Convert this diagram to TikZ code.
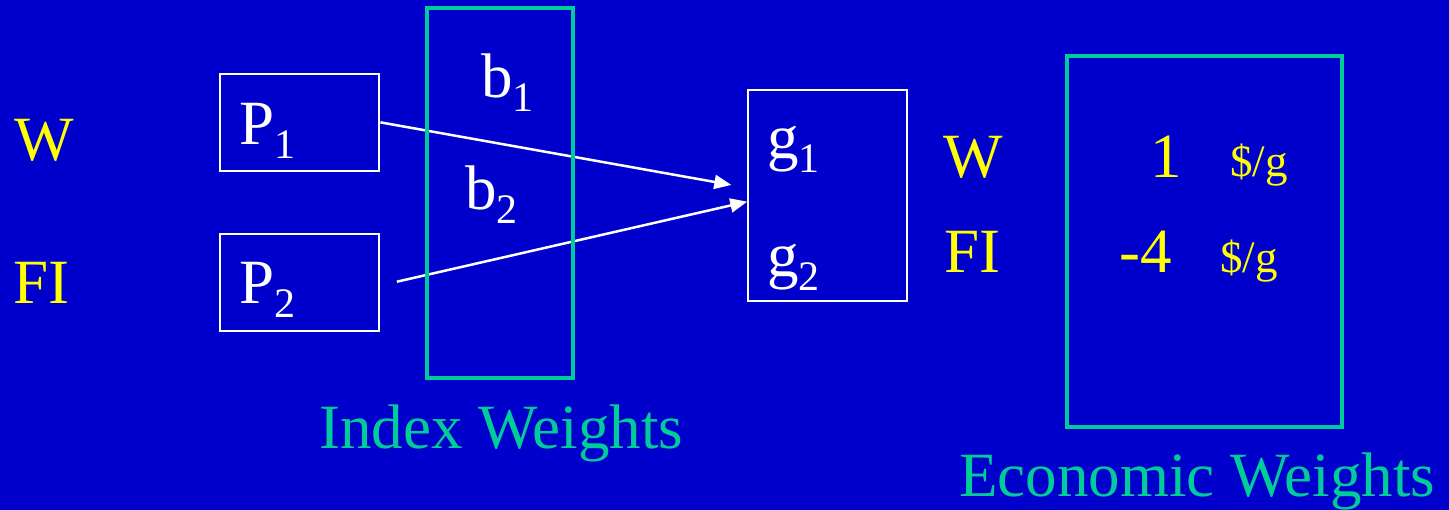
\documentclass[tikz,border=0pt]{standalone}
\usepackage{fontspec}
\setmainfont{Liberation Serif}
\newfontfamily\tms{Liberation Serif}
\usetikzlibrary{arrows.meta}
\definecolor{bgblue}{HTML}{0000CC}
\definecolor{tgreen}{HTML}{00CC99}
\definecolor{tyellow}{HTML}{FFFF00}
\newcommand{\bigf}{\tms\fontsize{63}{70}\selectfont}
\newcommand{\midf}{\tms\fontsize{45}{50}\selectfont}
\newcommand{\subsc}[1]{\raisebox{-14pt}{\tms\fontsize{42}{42}\selectfont #1}}
\begin{document}
\begin{tikzpicture}[x=1pt,y=-1pt,
  txt/.style={anchor=base west,inner sep=0pt,font=\bigf},
  ytxt/.style={txt,text=tyellow},
  wtxt/.style={txt,text=white},
  gtxt/.style={txt,text=tgreen},
  wbox/.style={draw=white,line width=2pt,inner sep=0pt},
  gbox/.style={draw=tgreen,line width=4pt,inner sep=0pt},
  arr/.style={draw=white,line width=2.5pt,-{Triangle[length=17pt,width=14pt]}}]
\fill[bgblue] (0,0) rectangle (1449,510);
\useasboundingbox (0,0) rectangle (1449,510);
% white boxes
\node[wbox,minimum width=159.1pt,minimum height=97.3pt] (P1box) at (299.85,122.35) {};
\node[wbox,minimum width=159.1pt,minimum height=96.4pt] (P2box) at (299.85,282.5) {};
\node[wbox,minimum width=159pt,minimum height=210.7pt] (gbox) at (827.8,195.65) {};
% left labels
\node[ytxt] (W1) at (14,161) {W};
\node[ytxt] (FI1) at (13,304) {FI};
% box contents
\node[wtxt] (P1) at (239,145) {P\subsc{1}};
\node[wtxt] (P2) at (239,304) {P\subsc{2}};
\node[wtxt] (b1) at (481,97.7) {b\subsc{1}};
\node[wtxt] (b2) at (465,209.3) {b\subsc{2}};
\node[wtxt] (g1) at (767,159) {g\subsc{1}};
\node[wtxt] (g2) at (767,277) {g\subsc{2}};
% arrows
\coordinate (a1end) at ([xshift=-16pt,yshift=10.7pt]gbox.west);
\coordinate (a2start) at ([xshift=16.5pt,yshift=0.8pt]P2box.east);
\draw[arr] (P1box.east) -- (a1end);
\draw[arr] (a2start) -- ([yshift=-6pt]gbox.west);
% green boxes
\node[gbox,minimum width=146.6pt,minimum height=370pt] (ibox) at (500,193.3) {};
\node[gbox,minimum width=275pt,minimum height=371.6pt] (ebox) at (1204.2,241.5) {};
% right labels
\node[ytxt] (W2) at (943,177.7) {W};
\node[ytxt] (FI2) at (944,272.7) {FI};
\node[ytxt] (v1) at (1150,177.7) {1};
\node[ytxt,font=\midf] (u1) at (1230,177) {\$/g};
\node[ytxt] (v2) at (1119,272.7) {-4};
\node[ytxt,font=\midf] (u2) at (1220,273) {\$/g};
% captions
\node[gtxt] (iw) at (319,448.3) {Index Weights};
\node[gtxt] (ew) at (959,496.7) {Economic Weights};
\end{tikzpicture}
\end{document}
